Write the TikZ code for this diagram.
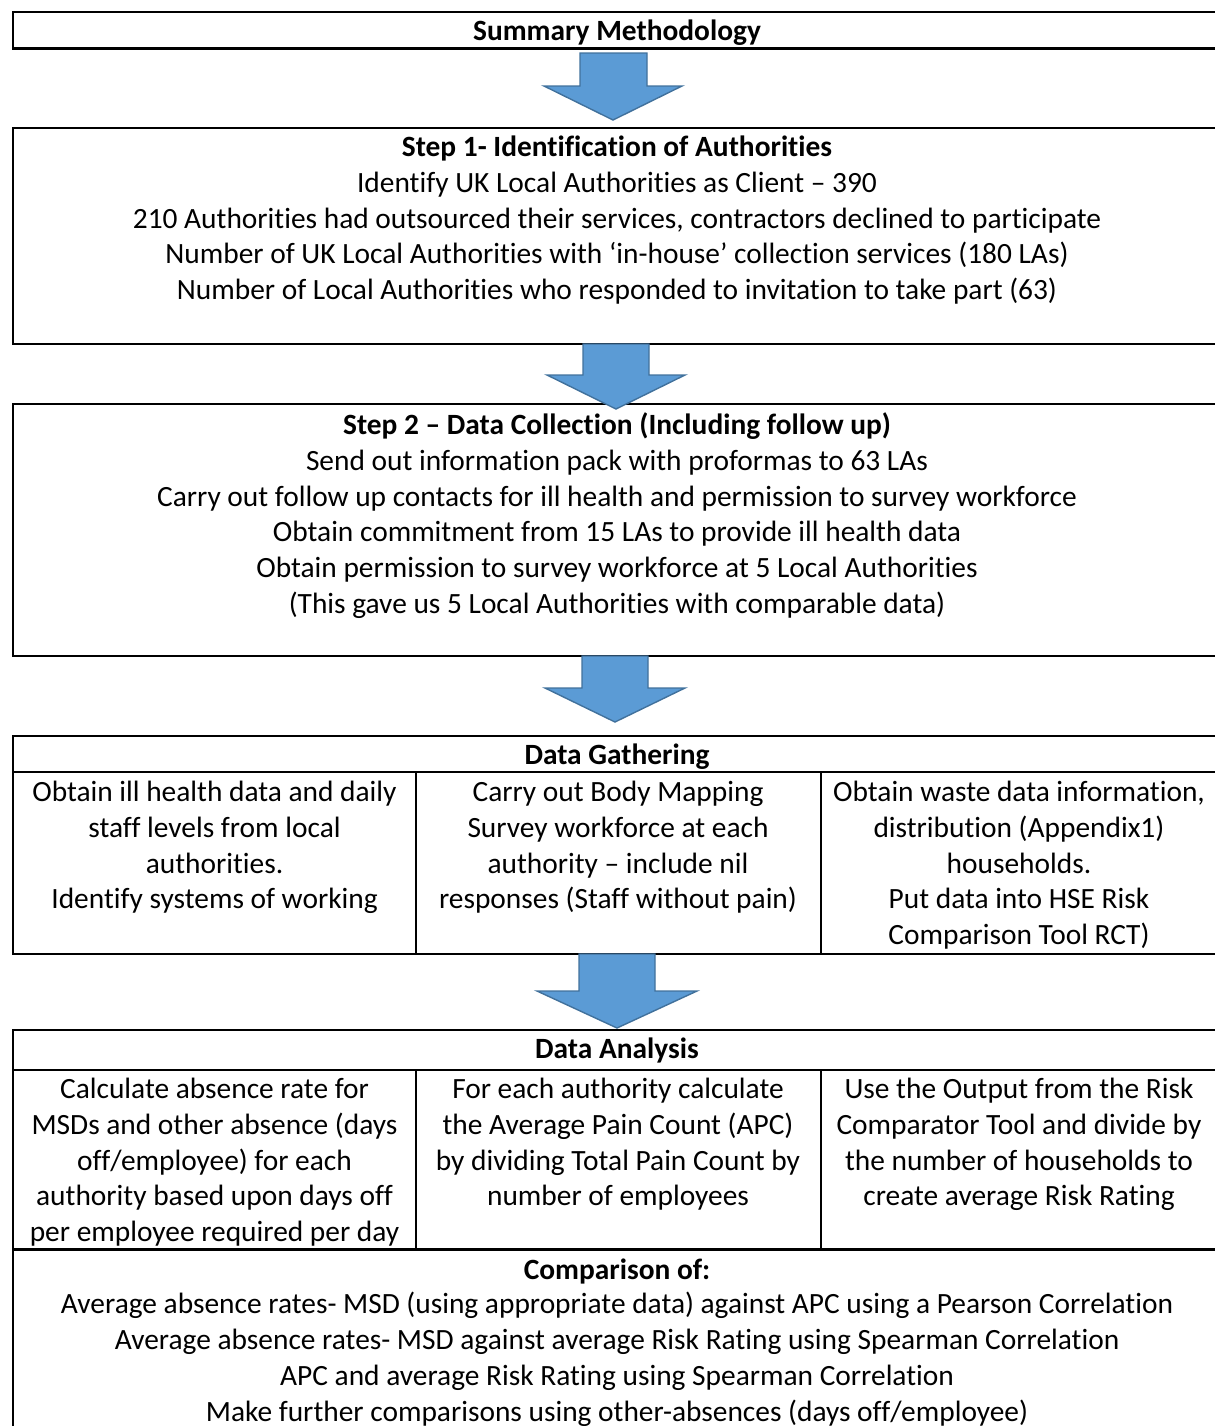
\documentclass[tikz,border=0pt]{standalone}
\usepackage{fontspec}
\setmainfont{Carlito}[Ligatures=NoCommon]
\definecolor{arrowfill}{HTML}{5B9BD5}
\definecolor{arrowline}{HTML}{41719C}
\newcommand\downblock[7]{% shaftL shaftR top headL headR headTop tipY
  \filldraw[blockarrow] (#1,#3) -- (#2,#3) -- (#2,#6) -- (#5,#6)
    -- ({(#4+#5)/2},#7) -- (#4,#6) -- (#1,#6) -- cycle;}
\begin{document}
\begin{tikzpicture}[x=0.5pt,y=-0.5pt,
  frame/.style={draw=black,line width=1.4pt},
  blockarrow/.style={fill=arrowfill,draw=arrowline,line width=0.7pt,line join=miter},
  txt/.style={font=\fontsize{14.7}{17.9}\selectfont,align=center,inner sep=0pt,anchor=base},
  hd/.style={txt,font=\fontsize{14.7}{17.9}\selectfont\bfseries}]
\useasboundingbox (0,0) rectangle (1215,1426);
% boxes
\draw[frame] (13,12) rectangle (1221,48.5);
\draw[frame] (13,128) rectangle (1221,344);
\draw[frame] (13,404) rectangle (1221,656);
\draw[frame] (13,736) rectangle (1221,954);
\draw[frame] (13,772) -- (1221,772);
\draw[frame] (416,772) -- (416,954);
\draw[frame] (821,772) -- (821,954);
\draw[frame] (13,1030) rectangle (1221,1450);
\draw[frame] (13,1070) -- (1221,1070);
\draw[frame] (13,1249.5) -- (1221,1249.5);
\draw[frame] (416,1070) -- (416,1249.5);
\draw[frame] (821,1070) -- (821,1249.5);
% texts (multi-line nodes are placed by the baseline of their last line)
\node[hd] (summary) at (617,40.5) {Summary Methodology};
\node[hd] (s1h) at (617,156.5) {Step 1- Identification of Authorities};
\node[txt] (s1t) at (617,299.7) {Identify UK Local Authorities as Client – 390\\
210 Authorities had outsourced their services, contractors declined to participate\\
Number of UK Local Authorities with ‘in-house’ collection services (180 LAs)\\
Number of Local Authorities who responded to invitation to take part (63)};
\node[hd] (s2h) at (617,434.5) {Step 2 – Data Collection (Including follow up)};
\node[txt] (s2t) at (617,613.5) {Send out information pack with proformas to 63 LAs\\
Carry out follow up contacts for ill health and permission to survey workforce\\
Obtain commitment from 15 LAs to provide ill health data\\
Obtain permission to survey workforce at 5 Local Authorities\\
(This gave us 5 Local Authorities with comparable data)};
\node[hd] (dgh) at (617,764.5) {Data Gathering};
\node[txt] (dg1) at (214.5,908.9) {Obtain ill health data and daily\\staff levels from local\\authorities.\\Identify systems of working};
\node[txt] (dg2) at (618,908.9) {Carry out Body Mapping\\Survey workforce at each\\authority – include nil\\responses (Staff without pain)};
\node[txt] (dg3) at (1019,944.7) {Obtain waste data information,\\distribution (Appendix1)\\households.\\Put data into HSE Risk\\Comparison Tool RCT)};
\node[hd] (dah) at (617,1058.5) {Data Analysis};
\node[txt] (da1) at (214.5,1241.7) {Calculate absence rate for\\MSDs and other absence (days\\off/employee) for each\\authority based upon days off\\per employee required per day};
\node[txt] (da2) at (618,1205.9) {For each authority calculate\\the Average Pain Count (APC)\\by dividing Total Pain Count by\\number of employees};
\node[txt] (da3) at (1019,1205.9) {Use the Output from the Risk\\Comparator Tool and divide by\\the number of households to\\create average Risk Rating};
\node[hd] (cmh) at (617,1279.5) {Comparison of:};
\node[txt] (cmt) at (617,1421) {Average absence rates- MSD (using appropriate data) against APC using a Pearson Correlation\\
Average absence rates- MSD against average Risk Rating using Spearman Correlation\\
APC and average Risk Rating using Spearman Correlation\\
Make further comparisons using other-absences (days off/employee)};
% arrows
\downblock{580}{647}{53}{544}{682}{86}{120}
\downblock{583}{649}{344}{547}{685}{375}{409}
\downblock{582}{648}{656}{545}{685}{688}{722}
\downblock{579}{655}{954}{537}{697}{991}{1028}
\end{tikzpicture}
\end{document}
